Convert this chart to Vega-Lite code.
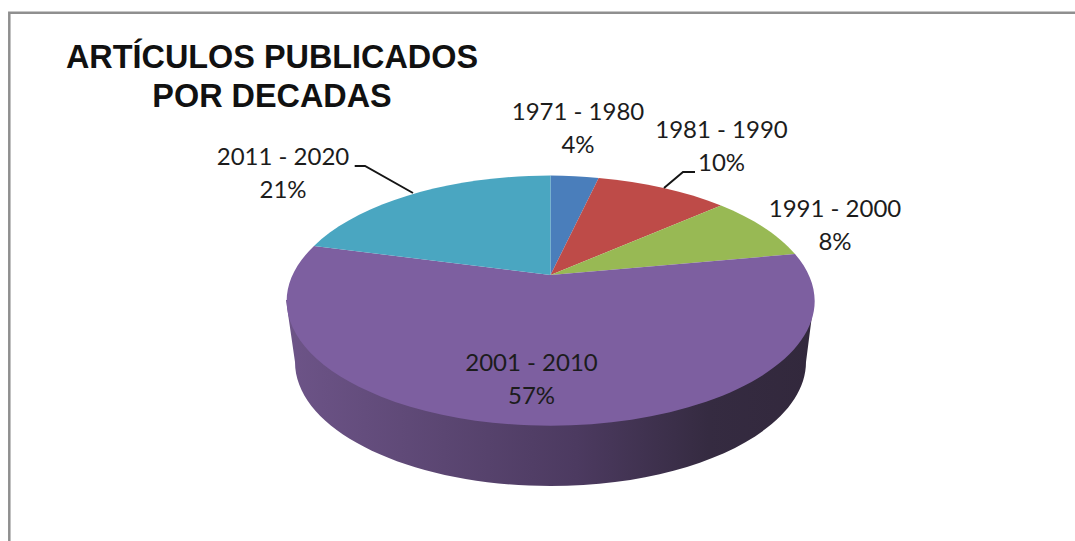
{
"$schema":"https://vega.github.io/schema/vega-lite/v6.json",
"width":1075,"height":541,"autosize":"none","padding":0,"background":"white",
"title":{"text":["ARTÍCULOS PUBLICADOS","POR DECADAS"],"anchor":"start","frame":"group","align":"center","baseline":"alphabetic","dx":272,"offset":-139,"font":"Liberation Sans","fontSize":32.4,"fontWeight":"bold","color":"#111111","lineHeight":38.5},
"config":{"view":{"stroke":null}},
"data":{"values":[
{"decada":"1971 - 1980","inicio":1971,"porcentaje":4},
{"decada":"1981 - 1990","inicio":1981,"porcentaje":10},
{"decada":"1991 - 2000","inicio":1991,"porcentaje":8},
{"decada":"2001 - 2010","inicio":2001,"porcentaje":57},
{"decada":"2011 - 2020","inicio":2011,"porcentaje":21}
]},
"layer":[
{"data":{"values":[{"marco":"borde"}]},
 "mark":{"type":"point","shape":"M-528.2 270.5L-528.2 -257.8L537.5 -257.8","size":4,"filled":false,"fill":null,"stroke":"#8f8f8f","strokeWidth":2.5,"opacity":1},
 "encoding":{}},
{"transform":[{"filter":"datum.inicio==2001"}],
 "mark":{"type":"point","shape":"M-251.5 29.5L-242.5 91.5A255.5 124 0 0 0 268.5 91.5L276.5 29.5Z","size":4,"filled":true,"opacity":1,"strokeWidth":0,
  "fill":{"gradient":"linear","x1":0,"y1":0,"x2":1,"y2":0,"stops":[{"offset":0,"color":"#6d5488"},{"offset":0.3,"color":"#5b4672"},{"offset":0.55,"color":"#4c3a60"},{"offset":0.8,"color":"#352b41"},{"offset":1,"color":"#32283c"}]}},
 "encoding":{}},
{"mark":{"type":"point","size":4,"filled":true,"opacity":1,"strokeWidth":0},
 "encoding":{
  "shape":{"field":"decada","type":"nominal","legend":null,"scale":{"domain":["1971 - 1980","1981 - 1990","1991 - 2000","2001 - 2010","2011 - 2020"],"range":[
   "M13 4.5L13 -95A264 124.5 0 0 1 61.2 -92.5Z",
   "M13 4.5L61.2 -92.5A264 124.5 0 0 1 183.5 -65Z",
   "M13 4.5L183.5 -65A264 124.5 0 0 1 257.5 -16.5Z",
   "M13 4.5L257.5 -16.5A264 124.5 0 1 1 -223.5 -24.5Z",
   "M13 4.5L-223.5 -24.5A264 124.5 0 0 1 13 -95Z"]}},
  "color":{"field":"decada","type":"nominal","legend":null,"scale":{"domain":["1971 - 1980","1981 - 1990","1991 - 2000","2001 - 2010","2011 - 2020"],"range":["#4a7ebb","#be4b48","#98b954","#7d5fa0","#4aa6c1"]}}
 }},
{"transform":[{"filter":"datum.inicio==2011"}],
 "mark":{"type":"point","shape":"M-182.8 -104.5L-172.5 -104.5L-124.5 -77.5","size":4,"filled":false,"fill":null,"stroke":"#151515","strokeWidth":2,"opacity":1},
 "encoding":{}},
{"transform":[{"filter":"datum.inicio==1981"}],
 "mark":{"type":"point","shape":"M157.5 -98.5L145.5 -98.5L126.5 -82.5","size":4,"filled":false,"fill":null,"stroke":"#151515","strokeWidth":2,"opacity":1},
 "encoding":{}},
{"transform":[{"calculate":"datum.decada+'\\n'+datum.porcentaje+'%'","as":"etiqueta"}],
 "mark":{"type":"text","font":"Lato","fontSize":24,"lineBreak":"\n","lineHeight":33,"align":"center","baseline":"alphabetic","color":"#1c1c1c"},
 "encoding":{
  "text":{"field":"etiqueta","type":"nominal"},
  "x":{"field":"inicio","type":"quantitative","axis":null,"scale":{"domain":[1971,1981,1991,2001,2011],"range":[578,721.5,835,531.5,283],"zero":false,"nice":false}},
  "y":{"field":"inicio","type":"quantitative","axis":null,"scale":{"domain":[1971,1981,1991,2001,2011],"range":[120,138,217,370.6,165],"zero":false,"nice":false}}
 }}
]
}
